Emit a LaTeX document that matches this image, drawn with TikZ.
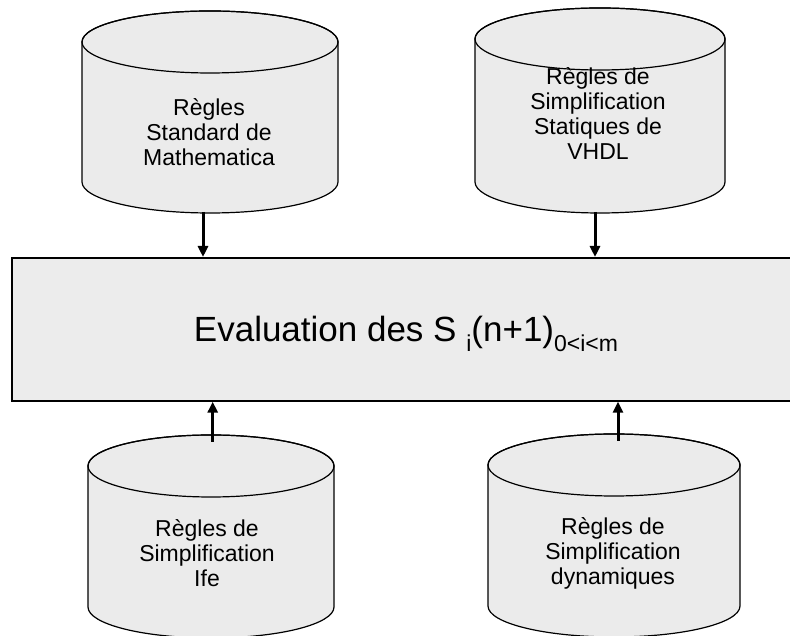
\documentclass[tikz,border=0pt]{standalone}
\usepackage{fontspec}
\setmainfont{Liberation Sans}
\usetikzlibrary{arrows.meta}

\definecolor{drumgray}{HTML}{EBEBEB}
\definecolor{boxgray}{HTML}{ECECEC}

\tikzset{
  drumbody/.style={fill=drumgray, draw=black, line width=1.2pt},
  drumtop/.style={draw=black, line width=1.2pt},
  drumtext/.style={align=center, anchor=base, inner sep=0pt,
    font=\fontsize{23}{25}\selectfont},
  evalbox/.style={fill=boxgray, draw=black, line width=2pt},
  feed/.style={line width=3pt, -{Triangle[length=11pt,width=10pt]}},
}

% database drum: centre x, top ellipse y, bottom ellipse y, x radius, y radius
\newcommand\dbdrum[5]{%
  \path[drumbody] (#1-#4,#2) -- (#1-#4,#3)
    arc[start angle=180,end angle=360,x radius=#4,y radius=#5]
    -- (#1+#4,#2)
    arc[start angle=0,end angle=180,x radius=#4,y radius=#5] -- cycle;
  \path[drumtop] (#1,#2) ellipse[x radius=#4,y radius=#5];
}

\begin{document}
\begin{tikzpicture}[x=1pt,y=1pt]
\clip (0,0) rectangle (790,636);

% rule bases
\dbdrum{210}{594}{454}{128}{31}
\dbdrum{600}{597}{454}{125}{31}
\dbdrum{211}{170}{29}{123}{31}
\dbdrum{614}{171}{30}{126}{31}

% the anchor sits on the baseline of the last line
\node[drumtext] (std) at (209,470) {Règles\\Standard de\\Mathematica};
\node[drumtext] (stat) at (598,476) {Règles de\\Simplification\\Statiques de\\VHDL};
\node[drumtext] (ife) at (207,49) {Règles de\\Simplification\\Ife};
\node[drumtext] (dyn) at (613,51) {Règles de\\Simplification\\dynamiques};

% evaluation block, running off the right edge
\node[evalbox, minimum width=828pt, minimum height=142.7pt, inner sep=0pt]
  (eval) at (426,306.65) {};
\node[font=\fontsize{35}{40}\selectfont, inner sep=0pt, anchor=base] (evaltxt) at (406,294)
  {Evaluation des S \raisebox{-10pt}{\fontsize{23}{26}\selectfont i}(n+1)\raisebox{-10pt}{\fontsize{23}{26}\selectfont 0<i<m}};

% arrow feet on the drums
\coordinate (stdfoot) at (203,424);
\coordinate (statfoot) at (595,424);
\coordinate (ifehead) at (212.7,194);
\coordinate (dynhead) at (618,195);

\draw[feed] (stdfoot) -- (stdfoot |- eval.north);
\draw[feed] (statfoot) -- (statfoot |- eval.north);
\draw[feed] (ifehead) -- (ifehead |- eval.south);
\draw[feed] (dynhead) -- (dynhead |- eval.south);
\end{tikzpicture}
\end{document}
